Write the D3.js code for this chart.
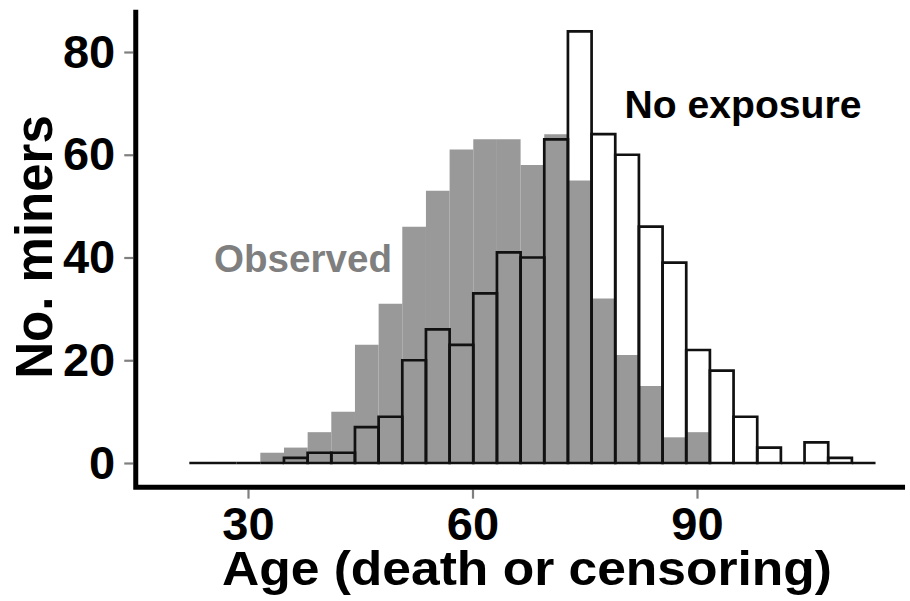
<!DOCTYPE html>
<meta charset="utf-8" />
<script src="https://d3js.org/d3.v7.min.js"></script>
<style>
	body { margin: 0; background: #fff; }
	text { font-family: 'Liberation Sans', Arial, Helvetica, sans-serif; font-weight: bold; }
</style>
<div id="my_dataviz"></div>

<script>
	// histogram bins (age in years)
	var binStart = 22.16;
	var binWidth = 3.162;

	// counts per bin
	var observed = [0, 0, 0, 2, 3, 6, 10, 23, 31, 46, 53, 61, 63, 63, 58, 64, 55, 32, 21, 15, 5, 6, 0, 0, 0, 0, 0, 0, 0];
	var noExposure = [0, 0, 0, 0, 1, 2, 2, 7, 9, 20, 26, 23, 33, 41, 40, 63, 84, 64, 60, 46, 39, 22, 18, 9, 3, 0, 4, 1, 0];

	var xTicks = [30, 60, 90];
	var yTicks = [0, 20, 40, 60, 80];
	var xLimits = [15.0, 117.8];
	var yLimits = [-4.7, 88.2];

	var width = 910, height = 601;

	var svg = d3
		.select('#my_dataviz')
		.append('svg')
		.attr('width', width)
		.attr('height', height);

	var x = d3.scaleLinear().domain([30, 90]).range([248, 697]);
	var y = d3.scaleLinear().domain([0, 80]).range([463, 52]);

	function bins(counts) {
		return counts.map(function (c, i) {
			return { x0: binStart + i * binWidth, x1: binStart + (i + 1) * binWidth, n: c };
		});
	}

	// one closed path per bin, so empty bins still leave a line at 0
	function binPath(d) {
		return 'M' + x(d.x0) + ',' + y(0) + 'V' + y(d.n) + 'H' + x(d.x1) + 'V' + y(0) + 'Z';
	}

	// observed: grey filled bars
	svg
		.append('g')
		.selectAll('path')
		.data(bins(observed).filter(function (d) { return d.n > 0; }))
		.enter()
		.append('path')
		.attr('d', binPath)
		.style('fill', '#999999');

	// no exposure: black outlines only
	svg
		.append('g')
		.selectAll('path')
		.data(bins(noExposure))
		.enter()
		.append('path')
		.attr('d', binPath)
		.style('fill', 'none')
		.style('stroke', '#111')
		.style('stroke-width', 2.7);

	// Y axis ticks + labels
	var yAxis = svg
		.append('g')
		.attr('transform', 'translate(' + (x(xLimits[0]) - 2.5) + ',0)')
		.call(d3.axisLeft(y).tickValues(yTicks).tickSize(9).tickPadding(9));

	// X axis ticks + labels
	var xAxis = svg
		.append('g')
		.attr('transform', 'translate(0,' + (y(yLimits[0]) + 2.5) + ')')
		.call(d3.axisBottom(x).tickValues(xTicks).tickSize(9).tickPadding(8));

	[yAxis, xAxis].forEach(function (g) {
		g.select('.domain').remove();
		g.selectAll('.tick line').style('stroke', '#7f7f7f').style('stroke-width', 2.2);
		g.selectAll('.tick text').style('fill', '#000').style('font-size', '47px');
	});

	// axis lines
	svg
		.append('path')
		.attr('d', 'M' + x(xLimits[0]) + ',' + y(yLimits[1]) + 'V' + y(yLimits[0]) + 'H' + x(xLimits[1]))
		.style('fill', 'none')
		.style('stroke', '#000')
		.style('stroke-width', 5);

	// X label
	svg
		.append('text')
		.attr('x', 527)
		.attr('y', 585)
		.attr('text-anchor', 'middle')
		.attr('textLength', 610)
		.attr('lengthAdjust', 'spacingAndGlyphs')
		.style('font-size', '48px')
		.text('Age (death or censoring)');

	// Y label
	svg
		.append('text')
		.attr('text-anchor', 'middle')
		.attr('transform', 'translate(52,247)rotate(-90)')
		.style('font-size', '51px')
		.text('No. miners');

	// annotations
	svg
		.append('text')
		.attr('x', 303)
		.attr('y', 272)
		.attr('text-anchor', 'middle')
		.attr('textLength', 178)
		.attr('lengthAdjust', 'spacingAndGlyphs')
		.style('font-size', '39px')
		.style('fill', '#7f7f7f')
		.text('Observed');

	svg
		.append('text')
		.attr('x', 743)
		.attr('y', 118)
		.attr('text-anchor', 'middle')
		.attr('textLength', 237)
		.attr('lengthAdjust', 'spacingAndGlyphs')
		.style('font-size', '39px')
		.style('fill', '#000')
		.text('No exposure');
</script>
